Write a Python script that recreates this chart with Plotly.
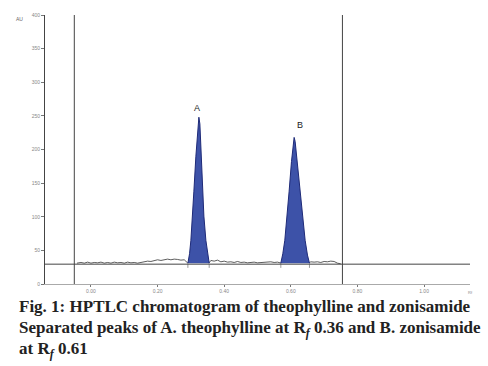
import plotly.graph_objects as go

# Baseline trace (Rf, AU)
base_rf = [-0.042, -0.03, -0.02, -0.01, 0.0, 0.01, 0.02, 0.03, 0.04, 0.05, 0.06, 0.07, 0.08, 0.09,
           0.10, 0.11, 0.12, 0.13, 0.14, 0.15, 0.16, 0.17, 0.18, 0.19, 0.20, 0.21, 0.22, 0.23,
           0.24, 0.25, 0.26, 0.27, 0.28, 0.291]
base_au = [31, 32, 31, 32.5, 31, 32, 31.5, 32.5, 31, 32, 31, 32.5, 31.5, 32,
           31, 32.5, 31.5, 32, 31, 32, 32.5, 34, 33.5, 35, 36, 35, 36.5, 37,
           36, 37, 36.5, 35.5, 36, 31]

mid_rf = [0.354, 0.36, 0.37, 0.38, 0.39, 0.40, 0.41, 0.42, 0.43, 0.44, 0.45, 0.46, 0.47, 0.48,
          0.49, 0.50, 0.51, 0.52, 0.53, 0.54, 0.55, 0.56, 0.571]
mid_au = [31, 35, 34, 35.5, 33, 34, 32.5, 33, 32, 33.5, 32, 32.5, 31.5, 32,
          32.5, 31.5, 32, 33, 32.5, 33, 32, 32.5, 31]

end_rf = [0.655, 0.66, 0.67, 0.68, 0.69, 0.70, 0.71, 0.72, 0.73, 0.74, 0.75]
end_au = [31, 33, 32.5, 33, 32, 33.5, 33, 34, 33.5, 31, 30]

# Peak A (theophylline)
peakA_rf = [0.291, 0.296, 0.300, 0.305, 0.309, 0.315, 0.321, 0.324, 0.327, 0.332, 0.335,
            0.339, 0.345, 0.350, 0.355]
peakA_au = [31, 45, 65, 101, 138, 190, 234, 248, 238, 182, 138, 101, 65, 43, 31]

# Peak B (zonisamide)
peakB_rf = [0.570, 0.576, 0.582, 0.589, 0.595, 0.602, 0.607, 0.610, 0.613, 0.619, 0.628,
            0.635, 0.643, 0.650, 0.656]
peakB_au = [31, 45, 65, 101, 138, 182, 209, 218, 212, 182, 138, 101, 65, 43, 31]

x_ticks = [0.0, 0.2, 0.4, 0.6, 0.8, 1.0]
x_ticklabels = ["0.00", "0.20", "0.40", "0.60", "0.80", "1.00"]
y_ticks = [0, 50, 100, 150, 200, 250, 300, 350, 400]
y_ticklabels = ["0", "50", "100", "150", "200", "250", "300", "350", "400"]

baseline_level = 29.5
start_rf = -0.05
end_rf_line = 0.755

fig = go.Figure()

for rf, au in [(base_rf, base_au), (mid_rf, mid_au), (end_rf, end_au)]:
    fig.add_trace(go.Scatter(x=rf, y=au, mode="lines",
                             line=dict(color="#333333", width=0.8), hoverinfo="skip"))

for rf, au in [(peakA_rf, peakA_au), (peakB_rf, peakB_au)]:
    fig.add_trace(go.Scatter(x=rf, y=au, mode="lines", fill="toself",
                             fillcolor="#3D52A8", line=dict(color="#1E2A78", width=1),
                             hoverinfo="skip"))

fig.add_shape(type="line", xref="paper", yref="y", x0=0, x1=1, y0=baseline_level, y1=baseline_level,
              line=dict(color="#444444", width=1))
fig.add_shape(type="line", xref="x", yref="y", x0=start_rf, x1=start_rf, y0=0, y1=400,
              line=dict(color="#444444", width=1))
fig.add_shape(type="line", xref="x", yref="y", x0=end_rf_line, x1=end_rf_line, y0=0, y1=400,
              line=dict(color="#444444", width=1))

for m in [peakA_rf[0], peakA_rf[-1], peakB_rf[0], peakB_rf[-1]]:
    fig.add_shape(type="line", xref="x", yref="y", x0=m, x1=m, y0=24, y1=30,
                  line=dict(color="#555555", width=0.6))

fig.add_annotation(x=0.319, y=262, xref="x", yref="y", text="A", showarrow=False,
                   font=dict(size=9, color="#222222", family="Liberation Sans"))
fig.add_annotation(x=0.627, y=236, xref="x", yref="y", text="B", showarrow=False,
                   font=dict(size=9, color="#222222", family="Liberation Sans"))
fig.add_annotation(x=-0.06, y=0.985, xref="paper", yref="paper", text="AU", showarrow=False,
                   xanchor="center", yanchor="middle",
                   font=dict(size=5, color="#666666", family="Liberation Sans"))
fig.add_annotation(x=1.0, y=-0.033, xref="paper", yref="paper", text="Rf", showarrow=False,
                   xanchor="center", yanchor="middle",
                   font=dict(size=4, color="#888888", family="Liberation Sans"))

cap_font = dict(size=17, color="#222222", family="Liberation Serif")
captions = [
    "<b>Fig. 1: HPTLC chromatogram of theophylline and zonisamide</b>",
    "<b>Separated peaks of A. theophylline at R<sub><i>f</i></sub> 0.36 and B. zonisamide</b>",
    "<b>at R<sub><i>f</i></sub> 0.61</b>",
]
cap_y = [307, 329, 351]
for txt, py in zip(captions, cap_y):
    fig.add_annotation(x=(17 - 45) / 425, y=(284 - py) / 272, xref="paper", yref="paper",
                       text=txt, showarrow=False, xanchor="left", yanchor="middle", font=cap_font)

fig.update_layout(
    width=488, height=366,
    margin=dict(l=45, r=18, t=12, b=82),
    paper_bgcolor="white", plot_bgcolor="white",
    showlegend=False,
    xaxis=dict(range=[-0.138, 1.138], tickvals=x_ticks, ticktext=x_ticklabels,
               showgrid=False, zeroline=False, showline=True, linecolor="#aaaaaa", linewidth=1,
               ticks="outside", ticklen=2, tickcolor="#777777",
               tickfont=dict(size=5, color="#888888", family="Liberation Sans")),
    yaxis=dict(range=[0, 400], tickvals=y_ticks, ticktext=y_ticklabels,
               showgrid=False, zeroline=False, showline=True, linecolor="#444444", linewidth=1,
               ticks="outside", ticklen=3, tickcolor="#777777",
               tickfont=dict(size=5, color="#888888", family="Liberation Sans")),
)

fig.write_html("out.html", config={"displayModeBar": False},
               post_script="document.body.style.margin='0';document.body.style.overflow='hidden';")
